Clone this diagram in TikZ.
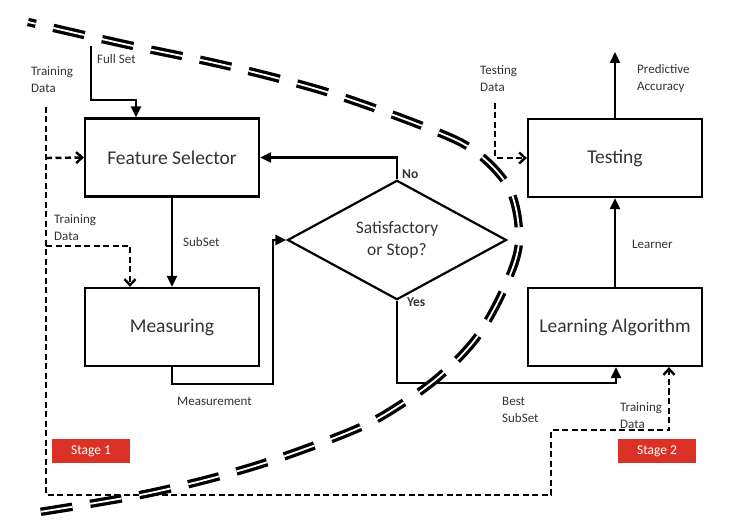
\documentclass[tikz,border=0pt]{standalone}
\usepackage{fontspec}
\setmainfont{Carlito}
\usetikzlibrary{shapes.geometric,arrows.meta}
\definecolor{txt}{HTML}{333333}
\definecolor{stagered}{HTML}{DC3126}
\begin{document}
\begin{tikzpicture}[x=1pt,y=-1pt,
  box/.style={draw=black,line width=2.2pt,minimum width=174pt,minimum height=78pt,inner sep=0pt,
     text=txt,font=\fontsize{19.5}{22}\selectfont},
  dec/.style={draw=black,line width=2.2pt,shape=diamond,minimum width=219pt,minimum height=106pt,inner sep=0pt,
     text=txt,align=center,font=\fontsize{17.5}{22}\selectfont},
  sol/.style={line width=2.2pt,-{Triangle[length=11pt,width=10pt]}},
  dsh/.style={line width=2.4pt,dash pattern=on 6pt off 3.5pt,-{Straight Barb[length=6pt,width=11pt]}},
  lbl/.style={text=txt,align=left,anchor=west,inner sep=0pt,font=\fontsize{13}{17}\selectfont},
  bld/.style={text=txt,anchor=west,inner sep=0pt,font=\fontsize{13.5}{17}\selectfont\bfseries},
  stagebox/.style={fill=stagered,text=white,minimum width=78pt,minimum height=24pt,inner sep=0pt,
     font=\fontsize{13.5}{16}\selectfont},
  bigcurve/.style={line width=3.3pt,double=white,double distance=1.8pt,dash pattern=on 32pt off 18pt,dash phase=24pt}
]
\useasboundingbox (0,0) rectangle (750,529);

% boxes
\node[box] (FS) at (172,157.5) {Feature Selector};
\node[box] (ME) at (172,327) {Measuring};
\node[box] (TE) at (615,158) {Testing};
\node[box] (LA) at (615,327) {Learning Algorithm};
\node[dec] (D) at (397,240) {Satisfactory\\or Stop?};

\node[stagebox] (S1) at (91,451) {Stage 1};
\node[stagebox] (S2) at (657,451) {Stage 2};

% coordinates
\coordinate (fs0) at (91,46);
\coordinate (fs1) at (136,100);
\coordinate (td0) at (46,107);
\coordinate (td1) at (46,495);
\coordinate (td2) at (551,495);
\coordinate (td3) at (551,430);
\coordinate (td4) at (669,430);
\coordinate (tdA) at (46,158);
\coordinate (tdB) at (46,246);
\coordinate (tdB2) at (130,246);
\coordinate (m1) at (273,384);
\coordinate (y1) at (616,383);
\coordinate (tt0) at (495,103);
\coordinate (pa) at (615,52);

% connectors
\draw[sol] (fs0) |- (fs1) -- (fs1 |- FS.north);
\draw[sol] (FS.south) -- (ME.north);
\draw[sol] (ME.south) |- (m1) |- (D.west);
\draw[sol] (D.north) |- (FS.east);
\draw[sol] (D.south) |- (y1) -- (y1 |- LA.south);
\draw[sol] (LA.north) -- (TE.south);
\draw[sol] (TE.north) -- (pa);
\draw[dsh] (td0) -- (td1) -- (td2) -- (td3) -- (td4) -- (td4 |- LA.south);
\draw[dsh] (tdA) -- (FS.west);
\draw[dsh] (tdB) -- (tdB2) -- (tdB2 |- ME.north);
\draw[dsh] (tt0) |- (TE.west);

% labels
\node[lbl] (l1) at (31,80) {Training\\Data};
\node[lbl] (l2) at (97,59) {Full Set};
\node[lbl] (l3) at (54,228) {Training\\Data};
\node[lbl] (l4) at (183,242) {SubSet};
\node[lbl] (l5) at (177,401) {Measurement};
\node[lbl] (l6) at (480,79) {Testing\\Data};
\node[lbl] (l7) at (637,79) {Predictive\\Accuracy};
\node[lbl] (l8) at (632,244) {Learner};
\node[lbl] (l9) at (502,410) {Best\\SubSet};
\node[lbl] (l10) at (620,416) {Training\\Data};
\node[bld] (no) at (402,174) {No};
\node[bld] (yes) at (407,302) {Yes};

% big dashed double curve
\draw[bigcurve] plot[smooth,tension=0.55] coordinates {(28,22) (124,44) (228,66) (330,93) (430,129) (476,152) (510,190) (519,242) (504,289) (477,337) (441,375) (400,405) (354,430) (255,466) (150,493) (33,513)};
\end{tikzpicture}
\end{document}
